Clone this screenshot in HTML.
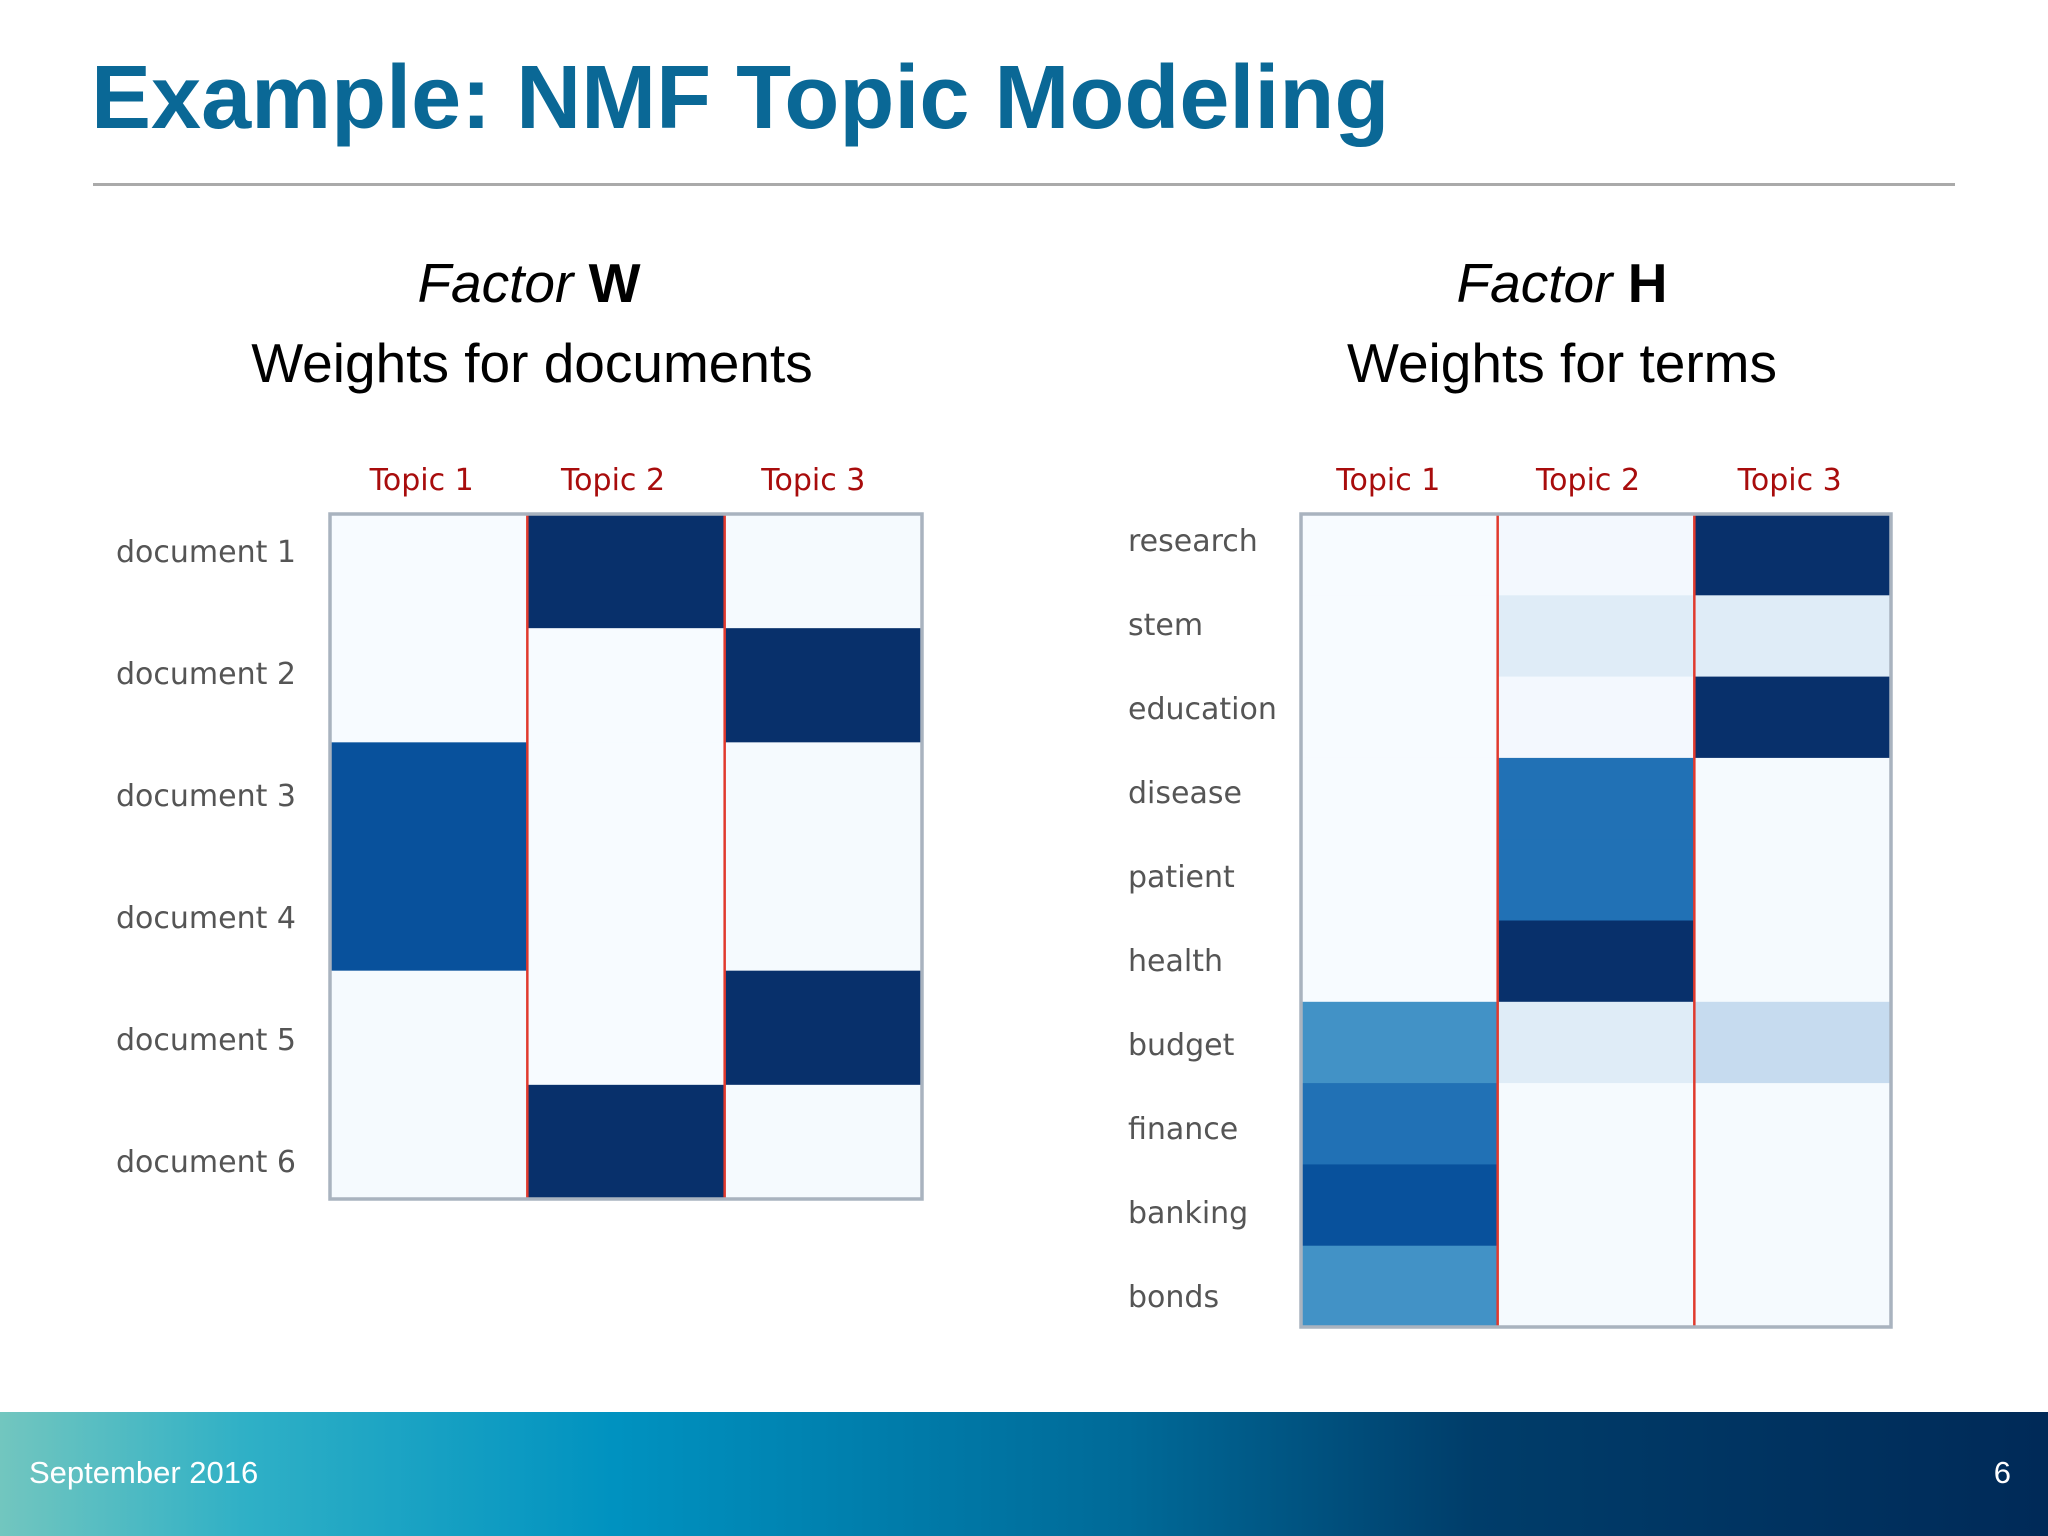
<!DOCTYPE html>
<html><head><meta charset="utf-8"><style>
html,body{margin:0;padding:0;background:#fff;}
svg{display:block;}
</style></head><body>
<svg id="s" width="2048" height="1536" viewBox="0 0 2048 1536" xmlns="http://www.w3.org/2000/svg">
<defs>
<linearGradient id="fg" x1="0" x2="1" y1="0" y2="0">
<stop offset="0" stop-color="#72c6bf"/><stop offset="0.12" stop-color="#2fb0c6"/><stop offset="0.3" stop-color="#0092c0"/><stop offset="0.55" stop-color="#006a98"/><stop offset="0.72" stop-color="#003d6a"/><stop offset="1" stop-color="#002a58"/>
</linearGradient>
</defs>
<text x="91" y="128" font-family="Liberation Sans, sans-serif" font-weight="bold" font-size="90" fill="#0a6896">Example: NMF Topic Modeling</text>
<rect x="93" y="183" width="1862" height="3" fill="#aaaaaa"/>
<text x="529" y="302" text-anchor="middle" font-family="Liberation Sans, sans-serif" font-size="55" fill="#000"><tspan font-style="italic">Factor </tspan><tspan font-weight="bold">W</tspan></text>
<text x="532" y="382" text-anchor="middle" font-family="Liberation Sans, sans-serif" font-size="55" fill="#000">Weights for documents</text>
<text x="1562" y="302" text-anchor="middle" font-family="Liberation Sans, sans-serif" font-size="55" fill="#000"><tspan font-style="italic">Factor </tspan><tspan font-weight="bold">H</tspan></text>
<text x="1562" y="382" text-anchor="middle" font-family="Liberation Sans, sans-serif" font-size="55" fill="#000">Weights for terms</text>
<g id="hw"></g>
<g id="hh"></g>
<rect x="0" y="1412" width="2048" height="124" fill="url(#fg)"/>
<text x="29" y="1483" font-family="Liberation Sans, sans-serif" font-size="31" fill="#fff">September 2016</text>
<text x="2011" y="1483" text-anchor="end" font-family="Liberation Sans, sans-serif" font-size="31" fill="#fff">6</text>
</svg>
<script>
const topics = ["Topic 1","Topic 2","Topic 3"];
const docs = ["document 1","document 2","document 3","document 4","document 5","document 6"];
const wTopic1 = [0, 0, 0.875, 0.875, 0.01, 0.01];
const wTopic2 = [1, 0, 0, 0, 0, 1];
const wTopic3 = [0.01, 1, 0.01, 0.01, 1, 0.01];
const terms = ["research","stem","education","disease","patient","health","budget","finance","banking","bonds"];
const hTopic1 = [0, 0, 0, 0, 0, 0, 0.625, 0.75, 0.875, 0.625];
const hTopic2 = [0.02, 0.12, 0.02, 0.75, 0.75, 1, 0.12, 0.01, 0.01, 0.01];
const hTopic3 = [1, 0.12, 1, 0.01, 0.01, 0.01, 0.25, 0.01, 0.01, 0.01];

const NS = "http://www.w3.org/2000/svg";
const stops = ["#f7fbff","#deebf7","#c6dbef","#9ecae1","#6baed6","#4292c6","#2171b5","#08519c","#08306b"];
function hex(c){return [1,3,5].map(i=>parseInt(c.substr(i,2),16));}
function blues(v){v=Math.max(0,Math.min(1,v));const p=v*8,i=Math.min(7,Math.floor(p)),f=p-i;const a=hex(stops[i]),b=hex(stops[i+1]);return "rgb("+a.map((x,k)=>Math.round(x+(b[k]-x)*f)).join(",")+")";}
function mk(t,attrs,parent){const e=document.createElementNS(NS,t);for(const k in attrs)e.setAttribute(k,attrs[k]);parent.appendChild(e);return e;}

function heat(g, x0, y0, w, h, rows, cols, labelX, lTop, lBot, colShift){
  const cw = w/cols.length, rh = h/rows.length;
  const xs = i => x0 + i*cw, ys = j => y0 + j*rh;
  const ly = j => lTop + (lBot-lTop)*j/(rows.length-1);
  cols.forEach((col,i)=>{
    col.forEach((v,j)=>{
      const r = mk("rect",{x:xs(i),y:ys(j),width:cw+0.5,height:rh+0.5,fill:blues(v)},g);
      
      
    });
    const t = mk("text",{x:xs(i)+cw/2+colShift[i],y:y0-24,"text-anchor":"middle","font-family":"DejaVu Sans, sans-serif","font-size":"30",fill:"#a80c0c"},g);
    t.textContent = topics[i];
    
    
  });
  for(let i=1;i<cols.length;i++){
    const l = mk("line",{x1:xs(i),x2:xs(i),y1:y0,y2:y0+h,stroke:"#e03a2e","stroke-width":"2.5"},g);
    
    
  }
  const b = mk("rect",{x:x0,y:y0,width:w,height:h,fill:"none",stroke:"#a9b3bf","stroke-width":"3.5"},g);
  
  
  rows.forEach((r,j)=>{
    const t = mk("text",{x:labelX,y:ly(j),"font-family":"DejaVu Sans, sans-serif","font-size":"30",fill:"#555"},g);
    t.textContent = r;
    
    
  });
}
heat(document.getElementById("hw"), 330, 514, 592, 685, docs, [wTopic1,wTopic2,wTopic3], 116, 562, 1172, [-7,-13,-10]);
heat(document.getElementById("hh"), 1301, 514, 590, 813, terms, [hTopic1,hTopic2,hTopic3], 1128, 551, 1307, [-11,-8,-3]);
</script>
</body></html>
